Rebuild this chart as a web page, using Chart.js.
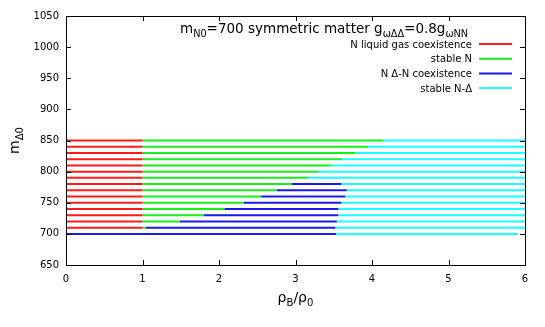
<!DOCTYPE html>
<html>
<head>
<meta charset="utf-8">
<script src="https://cdn.jsdelivr.net/npm/chart.js@4/dist/chart.umd.min.js"></script>
<style>
  html, body { margin: 0; padding: 0; background: #fff; }
  #wrap { width: 545px; height: 327px; }
</style>
</head>
<body>
<div id="wrap"><canvas id="phaseChart" width="545" height="327"></canvas></div>
<script>
// delta mass rows (y) and where each phase region ends along rho_B/rho_0 (x)
const masses   = [700, 710, 720, 730, 740, 750, 760, 770, 780, 790, 800, 810, 820, 830, 840, 850];
const redTo    = [null, 1, 1, 1, 1, 1, 1, 1, 1, 1, 1, 1, 1, 1, 1, 1];
const greenTo  = [null, 1.04, 1.49, 1.80, 2.07, 2.32, 2.55, 2.75, 2.95, 3.16, 3.30, 3.46, 3.61, 3.78, 3.95, 4.15];
const blueTo   = [3.53, 3.52, 3.54, 3.56, 3.56, 3.60, 3.65, 3.67, 3.60, null, null, null, null, null, null, null];
const cyanTo   = [5.91, 6, 6, 6, 6, 6, 6, 6, 6, 6, 6, 6, 6, 6, 6, 6];
const xTicks = [0, 1, 2, 3, 4, 5, 6];
const yTicks = [650, 700, 750, 800, 850, 900, 950, 1000, 1050];
const legendLabels = ['N liquid gas coexistence', 'stable N', 'N \u0394-N coexistence', 'stable N-\u0394'];
const colors = ['#ff1a1a', '#1aee1a', '#1a1aee', '#1affff'];

// build one dataset per phase, rows separated by null gaps
const phaseEnds = [redTo, greenTo, blueTo, cyanTo];
const segData = [[], [], [], []];
masses.forEach((m, i) => {
    let start = 0;
    phaseEnds.forEach((ends, k) => {
        const end = ends[i];
        if (end === null) return;
        segData[k].push({x: start, y: m}, {x: end, y: m}, {x: end, y: null});
        start = end;
    });
});

const FONT = 'DejaVu Sans';

function richWidth(ctx, parts, size) {
    let w = 0;
    parts.forEach(p => {
        ctx.font = (p[1] ? size * 0.72 : size) + 'px "' + FONT + '"';
        w += ctx.measureText(p[0]).width;
    });
    return w;
}
function drawRich(ctx, parts, x, y, size) {
    parts.forEach(p => {
        ctx.font = (p[1] ? size * 0.72 : size) + 'px "' + FONT + '"';
        ctx.fillText(p[0], x, p[1] ? y + size * 0.3 : y);
        x += ctx.measureText(p[0]).width;
    });
}

const decor = {
    id: 'decor',
    afterDraw(chart) {
        const ctx = chart.ctx;
        const a = chart.chartArea;
        const xs = chart.scales.x, ys = chart.scales.y;
        ctx.save();
        ctx.strokeStyle = '#000';
        ctx.lineWidth = 1;
        ctx.beginPath();
        xTicks.forEach(v => {
            const px = Math.round(xs.getPixelForValue(v)) + 0.5;
            if (v === 0 || v === 6) return;
            ctx.moveTo(px, a.bottom); ctx.lineTo(px, a.bottom - 5);
            ctx.moveTo(px, a.top); ctx.lineTo(px, a.top + 5);
        });
        yTicks.forEach(v => {
            const py = Math.round(ys.getPixelForValue(v)) + 0.5;
            if (v === 650 || v === 1050) return;
            ctx.moveTo(a.left, py); ctx.lineTo(a.left + 5, py);
            ctx.moveTo(a.right, py); ctx.lineTo(a.right - 5, py);
        });
        ctx.stroke();

        ctx.fillStyle = '#000';
        ctx.textBaseline = 'alphabetic';
        ctx.textAlign = 'left';
        // title inside the plot
        const title = [['m'], ['N0', 1], ['=700 symmetric matter g'], ['\u03c9\u0394\u0394', 1], ['=0.8g'], ['\u03c9NN', 1]];
        drawRich(ctx, title, 180, 33, 13.5);

        // key
        ctx.font = '10px "' + FONT + '"';
        legendLabels.forEach((t, i) => {
            const y = 44 + i * 14.7;
            ctx.textAlign = 'right';
            ctx.fillStyle = '#000';
            ctx.fillText(t, 472, y + 3.5);
            ctx.strokeStyle = colors[i];
            ctx.lineWidth = 2;
            ctx.beginPath();
            ctx.moveTo(479, y); ctx.lineTo(512, y);
            ctx.stroke();
        });

        // axis titles
        ctx.fillStyle = '#000';
        ctx.textAlign = 'left';
        const xt = [['\u03c1'], ['B', 1], ['/\u03c1'], ['0', 1]];
        drawRich(ctx, xt, (a.left + a.right) / 2 - richWidth(ctx, xt, 14) / 2, 302, 14);
        const yt = [['m'], ['\u03940', 1]];
        ctx.translate(19, (a.top + a.bottom) / 2);
        ctx.rotate(-Math.PI / 2);
        drawRich(ctx, yt, -richWidth(ctx, yt, 14) / 2, 0, 14);
        ctx.restore();
    }
};

const ctx = document.getElementById('phaseChart').getContext('2d');
new Chart(ctx, {
    type: 'line',
    data: {
        datasets: segData.map((d, k) => ({
            label: legendLabels[k],
            data: d,
            borderColor: colors[k],
            borderWidth: 2,
            pointRadius: 0,
            spanGaps: false,
            fill: false
        }))
    },
    options: {
        responsive: false,
        animation: false,
        layout: { padding: { left: 0, right: 20, top: 16, bottom: 0 } },
        plugins: { legend: { display: false }, tooltip: { enabled: false } },
        scales: {
            x: {
                type: 'linear', min: 0, max: 6,
                afterFit: s => { s.height = 62; },
                afterBuildTicks: s => { s.ticks = xTicks.map(v => ({value: v})); },
                grid: { drawOnChartArea: false, drawTicks: false },
                border: { color: '#000', width: 1 },
                ticks: { color: '#000', padding: 8, font: { family: FONT, size: 10 }, callback: v => String(v) }
            },
            y: {
                type: 'linear', min: 650, max: 1050,
                afterFit: s => { s.width = 66; },
                afterBuildTicks: s => { s.ticks = yTicks.map(v => ({value: v})); },
                grid: { drawOnChartArea: false, drawTicks: false },
                border: { color: '#000', width: 1 },
                ticks: { color: '#000', padding: 7, font: { family: FONT, size: 10 }, callback: v => String(v) }
            }
        }
    },
    plugins: [decor, {
        id: 'frame',
        afterDraw(chart) {
            const c = chart.ctx, a = chart.chartArea;
            c.save();
            c.strokeStyle = '#000';
            c.lineWidth = 1;
            c.strokeRect(Math.round(a.left) + 0.5, Math.round(a.top) + 0.5,
                Math.round(a.right - a.left), Math.round(a.bottom - a.top));
            c.restore();
        }
    }]
});
</script>
</body>
</html>
